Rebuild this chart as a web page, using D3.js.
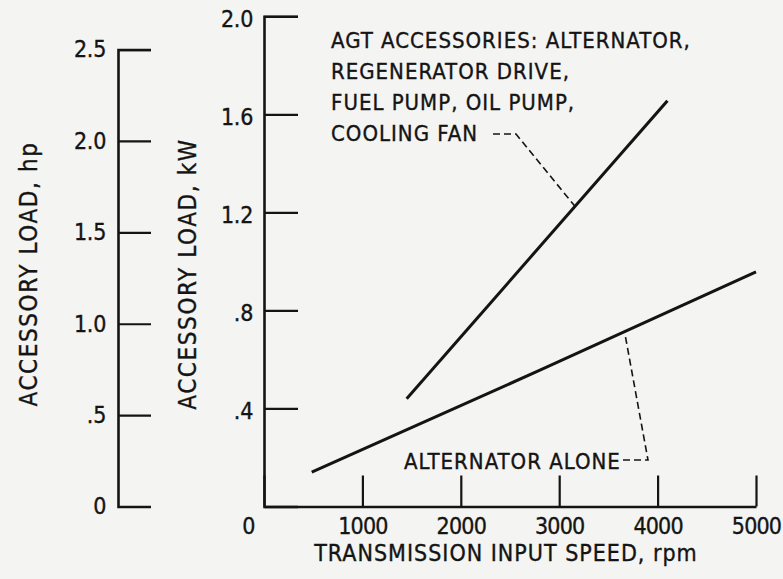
<!DOCTYPE html>
<html>
<head>
<meta charset="utf-8">
<script src="https://cdn.jsdelivr.net/npm/d3@7"></script>
<style>
  body { margin: 0; background: #f4f4f2; }
  svg text { font-family: "Liberation Sans Narrow", "DejaVu Sans Condensed", "Roboto Condensed", sans-serif; fill: #141414; stroke: #141414; stroke-width: 0.35px; }
</style>
</head>
<body>
<div id="chart"></div>
<script>
// readings taken off the figure
var speedTicks = [0, 1000, 2000, 3000, 4000, 5000];          // rpm
var kwTicks = [0.4, 0.8, 1.2, 1.6, 2.0];
var hpTicks = [0, 0.5, 1.0, 1.5, 2.0, 2.5];

// AGT accessories (alternator, regenerator drive, fuel pump, oil pump, cooling fan)
var allSpeed = [1450, 4100];
var allLoad = [0.44, 1.655];            // kW
// alternator alone
var altSpeed = [485, 2810, 5000];
var altLoad = [0.14, 0.557, 0.957];     // kW

var noteLines = ["AGT ACCESSORIES: ALTERNATOR,", "REGENERATOR DRIVE,", "FUEL PUMP, OIL PUMP,", "COOLING FAN"];

var width = 783, height = 579;
var KW_TO_HP = 1.341;

var svg = d3.select("#chart")
    .append("svg")
    .attr("width", width)
    .attr("height", height);

// scales
var x = d3.scaleLinear().domain([0, 5000]).range([264, 756]);
var y = d3.scaleLinear().domain([0, 2.0]).range([506.5, 16.3]);
var yHp = d3.scaleLinear().domain([0, 2.5]).range([y(0), y(2.5 / KW_TO_HP)]);

var fmt = function (d) {
    var s = d3.format(".1f")(d);
    return s.charAt(0) === "0" && d !== 0 ? s.slice(1) : (d === 0 ? "0" : s);
};

function styleAxis(g, size) {
    g.selectAll("path").attr("stroke", "#141414").attr("stroke-width", 2.6);
    g.selectAll("line").attr("stroke", "#141414").attr("stroke-width", 2.2);
    g.selectAll("text").attr("font-size", size).attr("fill", "#141414")
        .attr("font-family", null).attr("letter-spacing", -0.3);
}

// hp axis (left scale)
var hpAxis = svg.append("g")
    .attr("transform", "translate(118,0)")
    .call(d3.axisLeft(yHp).tickValues(hpTicks).tickSize(-33).tickPadding(12).tickFormat(fmt));
styleAxis(hpAxis, 23);

// kW axis
var kwAxis = svg.append("g")
    .attr("transform", "translate(264,0)")
    .call(d3.axisLeft(y).tickValues(kwTicks).tickSizeInner(-34).tickSizeOuter(-34).tickPadding(11).tickFormat(fmt));
styleAxis(kwAxis, 23);
kwAxis.selectAll(".tick text").attr("dy", "0.45em");

// speed axis
var xAxis = svg.append("g")
    .attr("transform", "translate(0," + y(0) + ")")
    .call(d3.axisBottom(x).tickValues(speedTicks).tickSize(-31).tickSizeOuter(0).tickPadding(11).tickFormat(d3.format("d")));
styleAxis(xAxis, 23);
xAxis.selectAll(".tick text").attr("letter-spacing", -0.8);
xAxis.selectAll(".tick").filter(function (d) { return d === 0; })
    .select("text").attr("x", -16);

// curves
var line = d3.line()
    .x(function (d) { return x(d[0]); })
    .y(function (d) { return y(d[1]); });

svg.append("path")
    .datum(d3.zip(allSpeed, allLoad))
    .attr("d", line)
    .attr("fill", "none")
    .attr("stroke", "#141414")
    .attr("stroke-width", 3);

svg.append("path")
    .datum(d3.zip(altSpeed, altLoad))
    .attr("d", line)
    .attr("fill", "none")
    .attr("stroke", "#141414")
    .attr("stroke-width", 3);

// axis titles
svg.append("text")
    .attr("transform", "translate(37,274) rotate(-90)")
    .attr("text-anchor", "middle")
    .attr("font-size", 24)
    .attr("letter-spacing", 1.6)
    .text("ACCESSORY LOAD, hp");

svg.append("text")
    .attr("transform", "translate(196,274) rotate(-90)")
    .attr("text-anchor", "middle")
    .attr("font-size", 24)
    .attr("letter-spacing", 1.6)
    .text("ACCESSORY LOAD, kW");

svg.append("text")
    .attr("x", 506)
    .attr("y", 561)
    .attr("text-anchor", "middle")
    .attr("font-size", 23)
    .attr("letter-spacing", 1.0)
    .text("TRANSMISSION INPUT SPEED, rpm");

// annotation for the upper curve
svg.selectAll("text.note")
    .data(noteLines)
    .enter()
    .append("text")
    .attr("class", "note")
    .attr("x", 331)
    .attr("y", function (d, i) { return 48 + i * 31; })
    .attr("font-size", 22)
    .attr("letter-spacing", 1.0)
    .text(function (d) { return d; });

svg.append("text")
    .attr("x", 404)
    .attr("y", 469)
    .attr("font-size", 22)
    .attr("letter-spacing", 1.0)
    .text("ALTERNATOR ALONE");

// dashed leaders
var leader = d3.line();
var upperHit = [x(3180), y(1.215)];
svg.append("path")
    .attr("d", leader([[493, 134], [516, 134], upperHit]))
    .attr("fill", "none")
    .attr("stroke", "#141414")
    .attr("stroke-width", 1.6)
    .attr("stroke-dasharray", "7,4");

var lowerHit = [x(3670), y(0.70)];
svg.append("path")
    .attr("d", leader([[623, 460], [648, 460], lowerHit]))
    .attr("fill", "none")
    .attr("stroke", "#141414")
    .attr("stroke-width", 1.6)
    .attr("stroke-dasharray", "7,4");
</script>
</body>
</html>
